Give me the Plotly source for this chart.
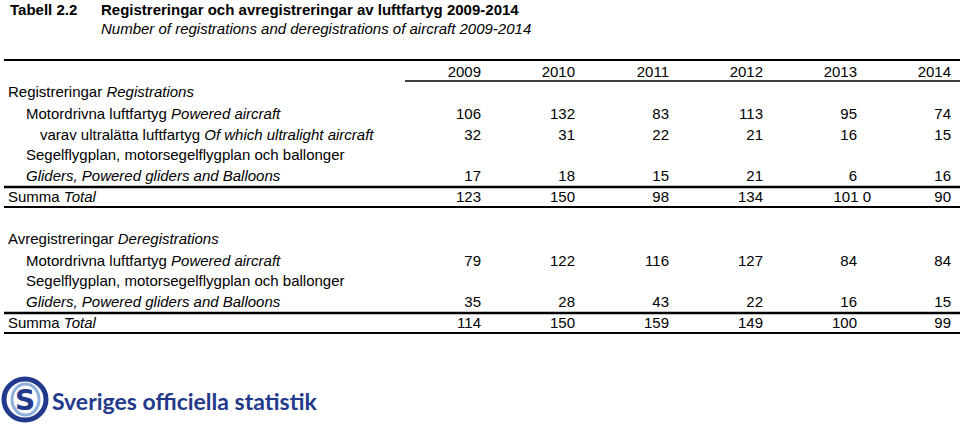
import plotly.graph_objects as go

years = ["2009", "2010", "2011", "2012", "2013", "2014"]

reg_powered = [106, 132, 83, 113, 95, 74]
reg_ultralight = [32, 31, 22, 21, 16, 15]
reg_gliders = [17, 18, 15, 21, 6, 16]
reg_total = ["123", "150", "98", "134", "101 0", "90"]

dereg_powered = [79, 122, 116, 127, 84, 84]
dereg_gliders = [35, 28, 43, 22, 16, 15]
dereg_total = [114, 150, 159, 149, 100, 99]

row_labels = [
    "Registreringar <i>Registrations</i>",
    "Motordrivna luftfartyg <i>Powered aircraft</i>",
    "varav ultralätta luftfartyg <i>Of which ultralight aircraft</i>",
    "Segelflygplan, motorsegelflygplan och ballonger",
    "<i>Gliders, Powered gliders and Balloons</i>",
    "Summa <i>Total</i>",
    "Avregistreringar <i>Deregistrations</i>",
    "Motordrivna luftfartyg <i>Powered aircraft</i>",
    "Segelflygplan, motorsegelflygplan och ballonger",
    "<i>Gliders, Powered gliders and Balloons</i>",
    "Summa <i>Total</i>",
]
label_x = [8, 26, 40, 26, 26, 8, 8, 26, 26, 26, 8]
label_y = [93, 115, 136, 156, 177, 198, 240, 262, 282, 303, 324]

col_x = [481, 575, 669, 763, 857, 951]
FONT = "Liberation Sans, Arial, sans-serif"
FS = 15

fig = go.Figure()

fig.add_trace(go.Scatter(
    x=label_x, y=label_y, text=row_labels, mode="text",
    textposition="middle right", cliponaxis=False,
    textfont=dict(family=FONT, size=FS, color="black"),
    hoverinfo="skip", showlegend=False))

fig.add_trace(go.Scatter(
    x=col_x, y=[73] * 6, text=years, mode="text",
    textposition="middle left", cliponaxis=False,
    textfont=dict(family=FONT, size=FS, color="black"),
    hoverinfo="skip", showlegend=False))

rows = [
    (reg_powered, 115), (reg_ultralight, 136), (reg_gliders, 177),
    (dereg_powered, 262), (dereg_gliders, 303), (dereg_total, 324),
]
for vals, yy in rows:
    fig.add_trace(go.Scatter(
        x=col_x, y=[yy] * 6, text=[str(v) for v in vals], mode="text",
        textposition="middle left", cliponaxis=False,
        textfont=dict(family=FONT, size=FS, color="black"),
        hoverinfo="skip", showlegend=False))

tot_x = list(col_x)
tot_x[4] = col_x[4] + 14
fig.add_trace(go.Scatter(
    x=tot_x, y=[198] * 6, text=reg_total, mode="text",
    textposition="middle left", cliponaxis=False,
    textfont=dict(family=FONT, size=FS, color="black"),
    hoverinfo="skip", showlegend=False))


def hline(x0, x1, y, w):
    fig.add_shape(type="line", x0=x0, x1=x1, y0=y, y1=y, xref="x", yref="y",
                  line=dict(color="black", width=w))


hline(4, 960, 60, 2)
hline(405, 960, 81, 1.5)
hline(4, 960, 187, 2.5)
hline(4, 960, 207, 2)
hline(4, 960, 313, 2.5)
hline(4, 960, 333, 2)

TFS = 15
fig.add_annotation(x=8, y=9, xref="x", yref="y", text="<b>Tabell 2.2</b>",
                   showarrow=False, xanchor="left", yanchor="middle",
                   font=dict(family=FONT, size=TFS, color="black"))
fig.add_annotation(x=99, y=9, xref="x", yref="y",
                   text="<b>Registreringar och avregistreringar av luftfartyg 2009-2014</b>",
                   showarrow=False, xanchor="left", yanchor="middle",
                   font=dict(family=FONT, size=TFS, color="black"))
fig.add_annotation(x=99, y=28, xref="x", yref="y",
                   text="<i>Number of registrations and deregistrations of aircraft 2009-2014</i>",
                   showarrow=False, xanchor="left", yanchor="middle",
                   font=dict(family=FONT, size=TFS, color="black"))

# logo
fig.add_shape(type="circle", x0=4, x1=46, y0=379, y1=420, xref="x", yref="y",
              line=dict(color="#233a8c", width=5))
fig.add_shape(type="circle", x0=12, x1=39, y0=384, y1=415, xref="x", yref="y",
              line=dict(color="#8fb0dc", width=3))
fig.add_annotation(x=25, y=400, xref="x", yref="y", text="<b>S</b>",
                   showarrow=False, xanchor="center", yanchor="middle",
                   font=dict(family="DejaVu Sans", size=28, color="#233a8c"))
fig.add_annotation(x=50, y=401, xref="x", yref="y",
                   text="<b>Sveriges officiella statistik</b>",
                   showarrow=False, xanchor="left", yanchor="middle",
                   font=dict(family="Lato", size=23, color="#233a8c"))

fig.update_layout(
    width=960, height=424, margin=dict(l=0, r=0, t=0, b=0),
    paper_bgcolor="white", plot_bgcolor="white",
    xaxis=dict(range=[0, 960], visible=False, fixedrange=True),
    yaxis=dict(range=[424, 0], visible=False, fixedrange=True),
)

fig.write_html(
    "out.html",
    config={"displayModeBar": False, "staticPlot": True},
    post_script="document.body.style.margin='0';document.body.style.overflow='hidden';",
)
